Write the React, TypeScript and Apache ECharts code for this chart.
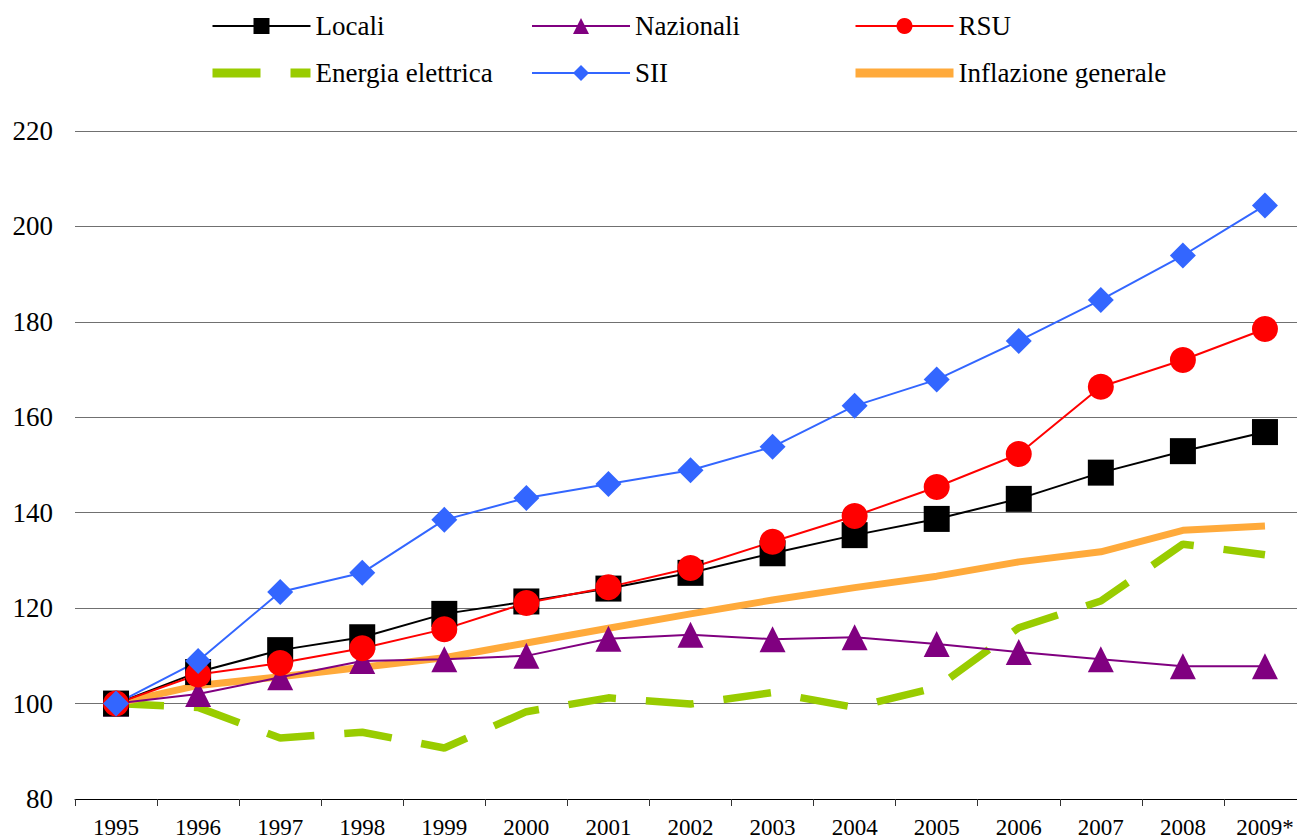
import React, { useEffect, useRef } from "react";
import * as echarts from "echarts";

const years = ["1995", "1996", "1997", "1998", "1999", "2000", "2001", "2002", "2003", "2004", "2005", "2006", "2007", "2008", "2009*"];
const locali = [100, 106.6, 111.2, 113.9, 118.8, 121.4, 124.1, 127.4, 131.5, 135.3, 138.7, 142.9, 148.4, 152.9, 156.9];
const nazionali = [100, 102, 105.5, 108.9, 109.3, 110.0, 113.6, 114.4, 113.5, 113.9, 112.5, 110.8, 109.3, 107.8, 107.8];
const rsu = [100, 106.1, 108.5, 111.6, 115.6, 121.1, 124.4, 128.4, 133.9, 139.3, 145.4, 152.3, 166.4, 172.0, 178.5];
const energia = [100, 99.2, 92.8, 94.0, 90.7, 98.3, 101.2, 99.9, 102.3, 99.2, 103.4, 115.9, 121.5, 133.4, 131.2];
const sii = [100, 108.9, 123.4, 127.4, 138.5, 143.1, 146.0, 148.9, 153.8, 162.4, 167.9, 176.0, 184.6, 193.9, 204.4];
const inflazione = [100, 103.8, 105.6, 107.6, 109.6, 112.7, 115.8, 118.8, 121.7, 124.3, 126.7, 129.7, 131.8, 136.3, 137.2];
const yTicks = { min: 80, max: 220, interval: 20 };

const FONT = "Liberation Serif";

export default function App() {
  const ref = useRef<HTMLDivElement>(null);
  useEffect(() => {
    if (!ref.current) return;
    const chart = echarts.init(ref.current, null, { renderer: "svg" });
    const legendBase = {
      orient: "vertical" as const,
      top: 12,
      padding: 0,
      itemWidth: 98,
      itemHeight: 20,
      itemGap: 19,
      selectedMode: false,
      textStyle: { fontFamily: FONT, fontSize: 27, color: "#000", lineHeight: 28 },
    };
    chart.setOption({
      animation: false,
      backgroundColor: "#fff",
      textStyle: { fontFamily: FONT },
      legend: [
        {
          ...legendBase,
          left: 208,
          data: [
            "Locali",
            { name: "Energia elettrica", itemStyle: { opacity: 0 }, lineStyle: { width: 9 } },
          ],
        },
        { ...legendBase, left: 531, data: ["Nazionali", "SII"] },
        {
          ...legendBase,
          left: 851,
          data: [
            "RSU",
            { name: "Inflazione generale", itemStyle: { opacity: 0 }, lineStyle: { width: 9 } },
          ],
        },
      ],
      grid: { left: 75, right: 0, top: 131, bottom: 40, containLabel: false },
      xAxis: {
        type: "category",
        data: years,
        boundaryGap: true,
        axisLine: { lineStyle: { color: "#000", width: 1 } },
        axisTick: { show: true, length: 7, lineStyle: { color: "#333" } },
        axisLabel: { fontFamily: FONT, fontSize: 23, color: "#000", margin: 17 },
      },
      yAxis: {
        type: "value",
        min: yTicks.min,
        max: yTicks.max,
        interval: yTicks.interval,
        axisLine: { show: false },
        axisTick: { show: false },
        axisLabel: { fontFamily: FONT, fontSize: 27, color: "#000", margin: 22 },
        splitLine: { lineStyle: { color: "#707070", width: 1 } },
      },
      series: [
        {
          name: "Energia elettrica",
          type: "line",
          data: energia,
          symbol: "none",
          lineStyle: { color: "#99CC00", width: 7.5, type: [48, 30], cap: "butt" },
          itemStyle: { color: "#99CC00" },
        },
        {
          name: "Inflazione generale",
          type: "line",
          data: inflazione,
          symbol: "none",
          lineStyle: { color: "#FFAA3B", width: 7 },
          itemStyle: { color: "#FFAA3B" },
        },
        {
          name: "Nazionali",
          type: "line",
          data: nazionali,
          symbol: "triangle",
          symbolSize: 26,
          lineStyle: { color: "#800080", width: 2 },
          itemStyle: { color: "#800080" },
        },
        {
          name: "Locali",
          type: "line",
          data: locali,
          symbol: "rect",
          symbolSize: 26,
          lineStyle: { color: "#000", width: 2 },
          itemStyle: { color: "#000" },
        },
        {
          name: "RSU",
          type: "line",
          data: rsu,
          symbol: "circle",
          symbolSize: 26,
          lineStyle: { color: "#FF0000", width: 2 },
          itemStyle: { color: "#FF0000" },
        },
        {
          name: "SII",
          type: "line",
          data: sii,
          symbol: "diamond",
          symbolSize: 26,
          lineStyle: { color: "#3366FF", width: 2 },
          itemStyle: { color: "#3366FF" },
        },
      ],
    });
    return () => chart.dispose();
  }, []);
  return (
    <div style={{ position: "absolute", left: 0, top: 0, width: 1297, height: 839, overflow: "hidden" }}>
      <div ref={ref} style={{ width: 1306, height: 839 }} />
    </div>
  );
}
